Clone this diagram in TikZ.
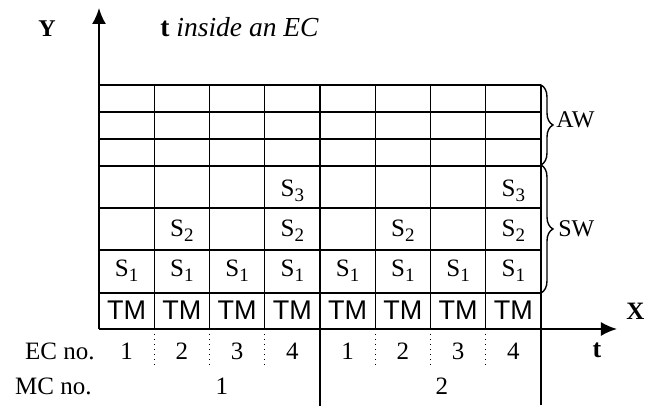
\documentclass[tikz,border=0pt]{standalone}
\usepackage{fontspec}
\setmainfont{Liberation Serif}
\newfontfamily\tmfont{Liberation Sans}
\usetikzlibrary{arrows.meta, decorations.pathreplacing}

% slot label S_n
\newcommand{\slot}[1]{S\raisebox{-0.4ex}{\fontsize{9.5}{11}\selectfont #1}}

\begin{document}
\begin{tikzpicture}[x=0.5pt, y=-0.5pt,
    every node/.style={inner sep=0pt, font=\fontsize{12.5}{15}\selectfont},
    minor/.style={line width=0.6pt},
    major/.style={line width=0.95pt},
    ecsep/.style={line width=0.5pt, dotted},
    axis/.style={line width=0.95pt, -{Latex[length=8pt, width=7pt]}},
    wbrace/.style={line width=0.7pt, decorate, decoration={brace, amplitude=6pt}},
    slotbox/.style={anchor=base, font=\fontsize{12.5}{15}\selectfont},
    tmbox/.style={anchor=base, font=\tmfont\fontsize{13.5}{16}\selectfont}]
  \useasboundingbox (0,0) rectangle (645,406);

  % axes
  \coordinate (O) at (99,329);
  \coordinate (ytip) at (99,8);
  \coordinate (xtip) at (617,329);
  \draw[axis] (O) -- (ytip);
  \draw[axis] (O) -- (xtip);
  \node[anchor=base, font=\bfseries\fontsize{12}{14}\selectfont] (ylab) at (47,37) {Y};
  \node[anchor=base west, font=\fontsize{13.75}{16}\selectfont] (title) at (160,37)
    {\textbf{t} \textit{inside an EC}};
  \node[anchor=base west, font=\bfseries\fontsize{12.5}{15}\selectfont] (xlab) at (626,320) {X};
  \node[anchor=base, font=\bfseries\fontsize{13}{15}\selectfont] (tlab) at (597,358) {t};

  % windows grid
  \foreach \y in {112,139,208,250}
    \draw[minor] (99,\y) -- (541,\y);
  \foreach \y in {85,166,293}
    \draw[major] (99,\y) -- (541,\y);
  \foreach \i in {1,2,3,5,6,7}
    \draw[minor] ({99+\i*55.25},85) -- ({99+\i*55.25},329);
  \draw[major] (320,85) -- (320,406);
  \draw[major] (541,85) -- (541,405);
  \foreach \i in {1,2,3,5,6,7}
    \draw[ecsep] ({99+\i*55.25},329) -- ({99+\i*55.25},368);

  % slots, TM and EC numbers
  \foreach \i/\n in {1/1,2/2,3/3,4/4,5/1,6/2,7/3,8/4} {
    \node[tmbox] (tm\i) at ({99+(\i-0.5)*55.25},320) {TM};
    \node[slotbox] (sa\i) at ({99+(\i-0.5)*55.25},277) {\slot{1}};
    \node[anchor=base] (ec\i) at ({99+(\i-0.5)*55.25},360) {\n};
  }
  \foreach \i in {2,4,6,8}
    \node[slotbox] (sb\i) at ({99+(\i-0.5)*55.25},237) {\slot{2}};
  \foreach \i in {4,8}
    \node[slotbox] (sc\i) at ({99+(\i-0.5)*55.25},197) {\slot{3}};

  \node[anchor=base east] (ecno) at (95,360) {EC no.};
  \node[anchor=base east] (mcno) at (92,395) {MC no.};
  \node[anchor=base] (mc1) at (222,395) {1};
  \node[anchor=base] (mc2) at (442,395) {2};

  % braces
  \coordinate (aw1) at (541,85);
  \coordinate (aw2) at (541,165);
  \coordinate (sw2) at (541,293);
  \draw[wbrace] (aw1) -- (aw2);
  \draw[wbrace] (aw2) -- (sw2);
  \node[anchor=base west, font=\fontsize{12}{14}\selectfont] (aw) at (556,128) {AW};
  \node[anchor=base west, font=\fontsize{12}{14}\selectfont] (sw) at (558,237) {SW};
\end{tikzpicture}
\end{document}
